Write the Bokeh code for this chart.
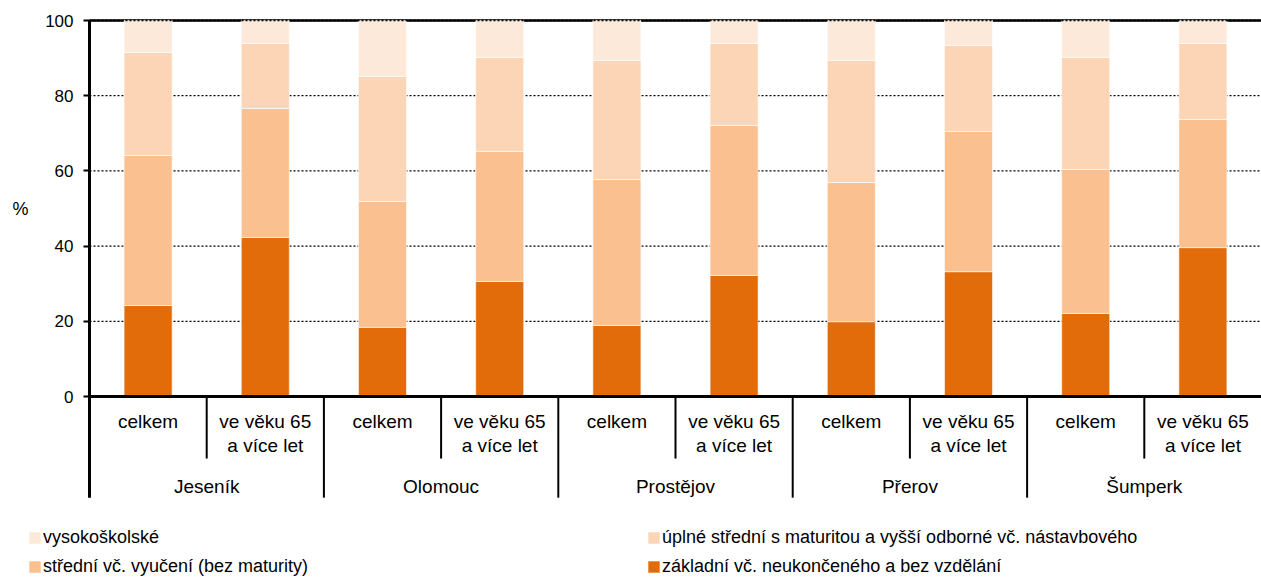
from bokeh.plotting import figure
from bokeh.models import ColumnDataSource, FixedTicker, Legend, LegendItem, Label, Range1d
from bokeh.core.properties import value
from bokeh.embed import file_html
from bokeh.resources import INLINE

# ---- data ----
groups = ["Jeseník", "Olomouc", "Prostějov", "Přerov", "Šumperk"]
subcats = ["celkem", "ve věku 65\na více let"]
series = ["základní vč. neukončeného a bez vzdělání",
          "střední vč. vyučení (bez maturity)",
          "úplné střední s maturitou a vyšší odborné vč. nástavbového",
          "vysokoškolské"]
zakladni = [24.2, 42.3, 18.4, 30.6, 18.9, 32.2, 19.9, 33.2, 22.1, 39.6]
stredni = [39.9, 34.3, 33.5, 34.6, 38.8, 39.9, 37.0, 37.3, 38.3, 34.1]
uplne = [27.4, 17.3, 33.2, 25.0, 31.7, 21.8, 32.5, 22.9, 29.8, 20.2]
vysoko = [8.5, 6.1, 14.9, 9.8, 10.6, 6.1, 10.6, 6.6, 9.8, 6.1]
yticks = [0, 20, 40, 60, 80, 100]
colors = ["#E36C0A", "#FAC090", "#FBD5B5", "#FDE9D9"]

FONT = "Liberation Sans"
n = len(groups) * len(subcats)
xs = [i + 0.5 for i in range(n)]
keys = ["zakladni", "stredni", "uplne", "vysoko"]
src = ColumnDataSource(dict(x=xs, zakladni=zakladni, stredni=stredni, uplne=uplne, vysoko=vysoko))

p = figure(width=1261, height=578, output_backend="svg", toolbar_location=None,
           x_range=Range1d(-0.7594, n), y_range=Range1d(-48.40, 105.32),
           min_border_left=0, min_border_right=0, min_border_top=0, min_border_bottom=0)
p.outline_line_color = None
p.xaxis.visible = False
p.xgrid.visible = False
p.ygrid.visible = False

# y axis drawn at x = 0 inside the frame
yax = p.yaxis[0]
yax.fixed_location = 0
yax.ticker = FixedTicker(ticks=yticks)
yax.axis_line_color = None
yax.major_tick_line_color = "black"
yax.major_tick_line_width = 2
yax.major_tick_out = 6
yax.major_tick_in = 0
yax.minor_tick_line_color = None
yax.major_label_text_font = FONT
yax.major_label_text_font_size = "17px"
yax.major_label_text_color = "black"
yax.major_label_standoff = 10

# grid lines (between axis and right edge)
gy = yticks[1:]
p.segment(x0=[0] * len(gy), y0=gy, x1=[n] * len(gy), y1=gy,
          line_color="black", line_width=1.3, line_dash="2 2")
p.segment(x0=[0], y0=[yticks[-1]], x1=[n], y1=[yticks[-1]], line_color="black", line_width=2.5)

rs = p.vbar_stack(keys, x="x", width=0.41, source=src, color=colors, line_color="white", line_width=0.6)

p.segment(x0=[0], y0=[yticks[-1]], x1=[n], y1=[yticks[-1]], line_color="black",
          line_width=1.3, line_dash="2 2")

# axes lines
p.segment(x0=[0], y0=[-26.9], x1=[0], y1=[yticks[-1]], line_color="black", line_width=3)
p.segment(x0=[0], y0=[0], x1=[n], y1=[0], line_color="black", line_width=3)

# separators
short_x = [i for i in range(1, n) if i % 2 == 1]
long_x = [i for i in range(2, n) if i % 2 == 0]
p.segment(x0=short_x, y0=[0] * len(short_x), x1=short_x, y1=[-16.5] * len(short_x),
          line_color="black", line_width=2)
p.segment(x0=long_x, y0=[0] * len(long_x), x1=long_x, y1=[-26.9] * len(long_x),
          line_color="black", line_width=2)

# category labels
l1 = [subcats[i % 2].split("\n")[0] for i in range(n)]
p.text(x=xs, y=[-6.65] * n, text=l1, text_align="center", text_baseline="middle",
       text_font=value(FONT), text_font_size="19px", text_color="black")
x2 = [xs[i] for i in range(n) if "\n" in subcats[i % 2]]
l2 = [subcats[i % 2].split("\n")[1] for i in range(n) if "\n" in subcats[i % 2]]
p.text(x=x2, y=[-13.03] * len(x2), text=l2, text_align="center", text_baseline="middle",
       text_font=value(FONT), text_font_size="19px", text_color="black")
gx = [2 * g + 1 for g in range(len(groups))]
p.text(x=gx, y=[-23.94] * len(gx), text=groups, text_align="center", text_baseline="middle",
       text_font=value(FONT), text_font_size="19px", text_color="black")

p.add_layout(Label(x=-0.589, y=50, text="%", text_font=FONT, text_font_size="18px",
                   text_align="center", text_baseline="middle", text_color="black"))

def mk_legend(items, loc):
    lg = Legend(items=items, location=loc, orientation="vertical")
    lg.glyph_width = 15
    lg.glyph_height = 15
    lg.label_height = 20
    lg.label_text_font = FONT
    lg.label_text_font_size = "18px"
    lg.label_text_color = "black"
    lg.label_standoff = 1
    lg.spacing = 8
    lg.padding = 0
    lg.margin = 0
    lg.border_line_color = None
    lg.background_fill_alpha = 0
    return lg

lg1 = mk_legend([LegendItem(label=series[3], renderers=[rs[3]]),
                 LegendItem(label=series[1], renderers=[rs[1]])], (27, 1))
lg2 = mk_legend([LegendItem(label=series[2], renderers=[rs[2]]),
                 LegendItem(label=series[0], renderers=[rs[0]])], (646, 1))
p.add_layout(lg1, "center")
p.add_layout(lg2, "center")

open("out.html", "w").write(file_html(p, INLINE))
